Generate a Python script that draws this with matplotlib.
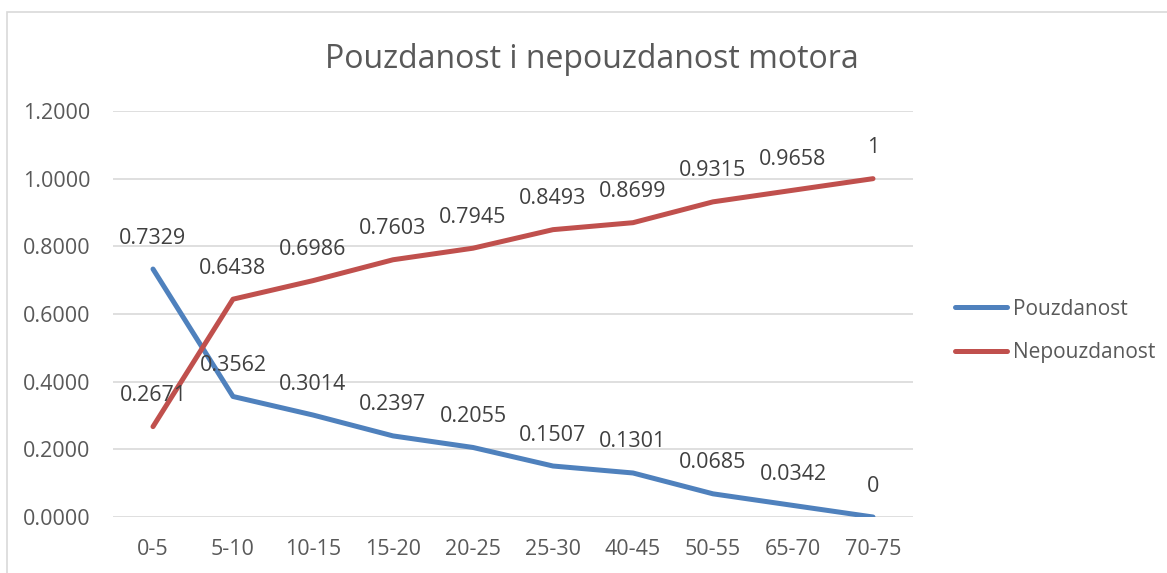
import matplotlib
matplotlib.use("Agg")
from matplotlib import pyplot as plt
from matplotlib.patches import Rectangle

plt.rcParams['font.family'] = ['Open Sans', 'DejaVu Sans']

categories = ['0-5', '5-10', '10-15', '15-20', '20-25', '25-30', '40-45', '50-55', '65-70', '70-75']
pouzdanost = [0.7329, 0.3562, 0.3014, 0.2397, 0.2055, 0.1507, 0.1301, 0.0685, 0.0342, 0]
nepouzdanost = [0.2671, 0.6438, 0.6986, 0.7603, 0.7945, 0.8493, 0.8699, 0.9315, 0.9658, 1]
yticks = [0.0, 0.2, 0.4, 0.6, 0.8, 1.0, 1.2]

gray = '#595959'
blue = '#4F81BD'
red = '#C0504D'

fig = plt.figure(figsize=(11.67, 5.73), dpi=100)
ax = fig.add_axes([113/1167, 56/573, 800/1167, 406/573])

x = range(len(categories))
ax.plot(x, pouzdanost, color=blue, lw=3.6, solid_capstyle='round', label='Pouzdanost')
ax.plot(x, nepouzdanost, color=red, lw=3.6, solid_capstyle='round', label='Nepouzdanost')

for i, v in enumerate(pouzdanost):
    ax.annotate(f'{v:g}', (i, v), xytext=(0, 31), textcoords='offset pixels',
                ha='center', va='center', fontsize=15.5, color='#404040')
for i, v in enumerate(nepouzdanost):
    ax.annotate(f'{v:g}', (i, v), xytext=(0, 31), textcoords='offset pixels',
                ha='center', va='center', fontsize=15.5, color='#404040')

ax.set_xlim(-0.5, len(categories) - 0.5)
ax.set_ylim(0, 1.2)
ax.set_yticks(yticks)
ax.set_yticklabels([f'{t:.4f}' for t in yticks])
ax.set_xticks(list(x))
ax.set_xticklabels(categories)
ax.tick_params(length=0, labelsize=15.5, labelcolor=gray)
ax.tick_params(axis='y', pad=16.5)
ax.tick_params(axis='x', pad=16)
ax.grid(axis='y', color='#D9D9D9', lw=1.2)
ax.set_axisbelow(True)
for s in ax.spines.values():
    s.set_visible(False)

fig.text(592/1167, 1 - 60/573, 'Pouzdanost i nepouzdanost motora',
         ha='center', va='center', fontsize=23, color=gray)

leg = fig.legend(loc='center left', bbox_to_anchor=(936/1167, 1 - 331/573),
                 frameon=False, fontsize=15, handlelength=2.5, handletextpad=0.3,
                 labelspacing=1.1)
for t in leg.get_texts():
    t.set_color(gray)

fig.patches.append(Rectangle((7/1167, -0.1), 1.2, 1 - 12/573 + 0.1,
                             transform=fig.transFigure, fill=False,
                             edgecolor='#D9D9D9', lw=1.2))

fig.savefig('out.png', dpi=100)
